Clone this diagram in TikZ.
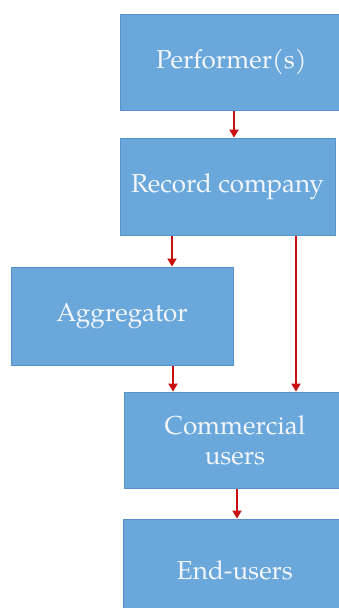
\documentclass[tikz,border=0pt]{standalone}
\usepackage{fontspec}
\setmainfont{TeX Gyre Pagella}
\usetikzlibrary{arrows.meta}
\definecolor{boxfill}{RGB}{106,168,220}
\definecolor{boxline}{RGB}{88,146,204}
\definecolor{boxtext}{RGB}{242,246,251}
\definecolor{flowred}{RGB}{200,16,16}
\tikzset{
  stage/.style={draw=boxline, line width=0.8pt, fill=boxfill, text=boxtext,
    font=\fontsize{26}{30}\selectfont, align=center, inner sep=0pt},
  flow/.style={draw=flowred, line width=1.9pt,
    -{Triangle[length=8pt,width=9pt]}, shorten <=1pt}
}
\begin{document}
\begin{tikzpicture}[x=1pt,y=-1pt]
  \useasboundingbox (0,0) rectangle (339,608);
  \clip (0,0) rectangle (339,608);
  % the stages of the chain
  \node[stage, minimum width=223pt, minimum height=96pt] (perf) at (231.5,62) {Performer(s)};
  \node[stage, minimum width=215pt, minimum height=97pt] (rec) at (227.5,186.5) {Record company};
  \node[stage, minimum width=222pt, minimum height=98pt] (agg) at (122,316) {Aggregator};
  \node[stage, minimum width=222pt, minimum height=96pt] (com) at (235,440) {Commercial\\users};
  \node[stage, minimum width=224pt, minimum height=102pt] (end) at (235,570) {End-users};
  % flows between the stages
  \draw[flow] (perf.south -| 234,0) -- (rec.north -| 234,0);
  \draw[flow] (rec.south -| 172,0) -- (agg.north -| 172,0);
  \draw[flow] (rec.south -| 296,0) -- (com.north -| 296,0);
  \draw[flow] (agg.south -| 173,0) -- (com.north -| 173,0);
  \draw[flow] (com.south -| 237,0) -- (end.north -| 237,0);
\end{tikzpicture}
\end{document}
